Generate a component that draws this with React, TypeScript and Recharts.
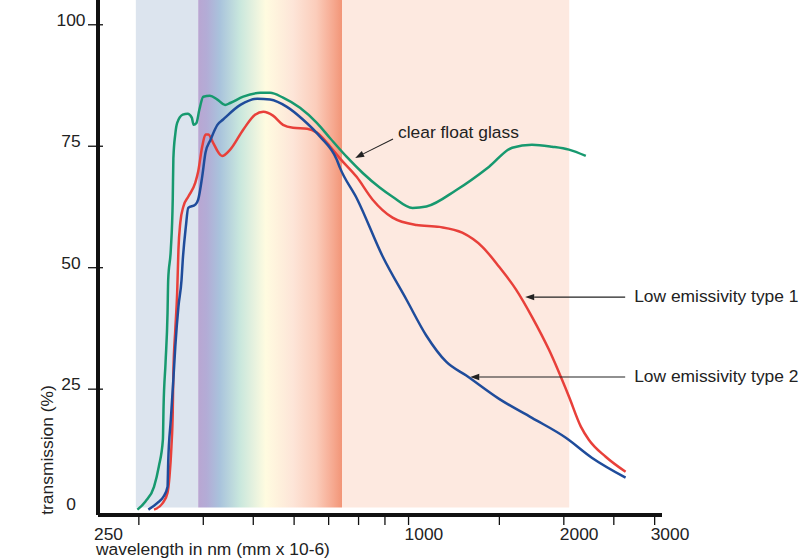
import React from 'react';
import { LineChart, Line, XAxis, YAxis, ReferenceArea, ReferenceLine } from 'recharts';

const FONT = '"Liberation Sans", Arial, Helvetica, sans-serif';
const FS = 17.4;

// clear float glass (green)
const clearW = [298, 309, 321, 328, 334, 335, 338, 341, 342, 346, 349, 350, 353, 356, 365, 373, 380, 383, 388, 393, 400, 412, 426, 441, 451, 478, 516, 539, 571, 616, 664, 704, 759, 815, 879, 931, 1018, 1083, 1238, 1433, 1588, 1735, 1897, 2046, 2206];
const clearT = [0.2, 1.9, 4.9, 9.1, 14.6, 21.4, 30.5, 40.7, 47.5, 53.7, 64, 72.5, 77.5, 79.8, 81.5, 81.7, 80.9, 79.4, 79.8, 82.5, 85.2, 85.4, 84.6, 83.5, 83.9, 85.2, 86, 86, 85, 82.9, 79.8, 76.7, 72.8, 69.5, 66.5, 64.6, 62.3, 62.6, 66, 70.8, 74.7, 75.3, 74.9, 74.3, 73];

// Low emissivity type 1 (red)
const type1W = [321, 334, 341, 344, 347, 349, 350, 353, 356, 358, 361, 366, 374, 386, 391, 398, 404, 409, 418, 428, 435, 451, 478, 504, 523, 546, 571, 597, 636, 664, 704, 736, 793, 852, 931, 1036, 1148, 1271, 1390, 1498, 1616, 1735, 1872, 2046, 2158, 2236, 2411, 2635];
const type1T = [0.2, 1.6, 3.7, 7.0, 13.2, 20.2, 28.4, 37.2, 44.9, 53.7, 59.3, 62.6, 64.6, 67.5, 69.8, 74.9, 77.4, 77.4, 75.7, 73.7, 73, 74.3, 78.4, 81.5, 82.1, 81.3, 79.4, 78.8, 78.6, 77.8, 75, 72.5, 68.7, 64, 60.3, 58.8, 58.4, 57.2, 54.3, 50.2, 45.5, 39.9, 33.1, 23.5, 17.3, 14.6, 11.1, 8.0];

// Low emissivity type 2 (blue)
const type2W = [313, 326, 335, 341, 342, 346, 350, 353, 358, 363, 365, 370, 374, 386, 391, 398, 404, 413, 426, 437, 472, 509, 539, 581, 624, 673, 726, 736, 796, 891, 991, 1083, 1184, 1294, 1498, 1735, 2018, 2266, 2635];
const type2T = [0.2, 1.6, 2.9, 4.9, 9.9, 18.7, 27, 33.7, 42, 47.5, 51.6, 58.4, 62.3, 63, 64, 68.7, 73.7, 76.3, 79.4, 80.5, 83.5, 84.8, 84.6, 83.1, 80.5, 77, 72.2, 70.6, 64, 52.3, 43.4, 36.0, 30.6, 27.8, 23.0, 19.1, 15, 10.9, 6.8];

const xTicks = [250, 300, 400, 500, 600, 700, 800, 900, 1000, 1500, 2000, 2500, 3000];
const xLabeled = [250, 1000, 2000, 3000];
const yTicks = [0, 25, 50, 75, 100];

const bandNames = ['UV', 'Visible', 'Near infrared'];
const bandStart = [296, 391, 743];
const bandEnd = [391, 743, 2049];
const bandFills = ['#dce4ee', 'url(#visGrad)', '#fde9e0'];

const seriesNames = ['clear float glass', 'Low emissivity type 1', 'Low emissivity type 2'];
// annotation arrows: [tail wavelength, tail %], [tip wavelength, tip %]
const arrowTail = [[933, 76.5], [2630, 43.95], [2630, 27.5]];
const arrowTip = [[788, 72.6], [1683, 43.95], [1317, 27.5]];
const arrowTextOffset = [[5, -1], [9, 5], [9, 5]];

const toRows = (w: number[], t: number[]) => w.map((x, i) => ({ w: x, t: t[i] }));
const clearData = toRows(clearW, clearT);
const type1Data = toRows(type1W, type1T);
const type2Data = toRows(type2W, type2T);

const XTick = (props: any) => {
  const { x, y, payload } = props;
  const v = payload.value;
  return (
    <g>
      {v !== 250 && <line x1={x} x2={x} y1={y - 10} y2={y} stroke="#111" strokeWidth={1.3} />}
      {xLabeled.includes(v) && (
        <text x={x - 4} y={y + 15} textAnchor="start" fontFamily={FONT} fontSize={FS} fill="#222">
          {v}
        </text>
      )}
    </g>
  );
};

const YTick = (props: any) => {
  const { x, y, payload } = props;
  const v = payload.value;
  return (
    <g>
      {v !== 0 && <line x1={x - 10} x2={x + 5} y1={y} y2={y} stroke="#111" strokeWidth={1.3} />}
      <text x={x - 27} y={y - (v === 0 ? 7 : 5)} dy="0.355em" textAnchor="middle" fontFamily={FONT} fontSize={FS} fill="#222">
        {v}
      </text>
    </g>
  );
};

const makeArrow = (label: string, off: number[]) => (props: any) => {
  const { x1, y1, x2, y2 } = props;
  const ang = Math.atan2(y2 - y1, x2 - x1);
  const L = 9;
  const W = 3.2;
  const bx = x2 - L * Math.cos(ang);
  const by = y2 - L * Math.sin(ang);
  const px = -Math.sin(ang) * W;
  const py = Math.cos(ang) * W;
  return (
    <g>
      <line x1={x1} y1={y1} x2={bx} y2={by} stroke="#222" strokeWidth={1.1} />
      <polygon points={`${x2},${y2} ${bx + px},${by + py} ${bx - px},${by - py}`} fill="#222" />
      <text x={x1 + off[0]} y={y1 + off[1]} fontFamily={FONT} fontSize={FS} fill="#222">
        {label}
      </text>
    </g>
  );
};

export default function App() {
  return (
    <div style={{ position: 'absolute', left: 0, top: 0, width: 812, height: 558, background: '#fff' }}>
      <LineChart width={812} height={558} margin={{ top: 0, right: 150, bottom: 13, left: 38 }}>
        <defs>
          <linearGradient id="visGrad" x1="0" y1="0" x2="1" y2="0">
            <stop offset="0%" stopColor="#b9a6d2" />
            <stop offset="6%" stopColor="#b3acd6" />
            <stop offset="15%" stopColor="#a9c3dc" />
            <stop offset="29%" stopColor="#c9e7dd" />
            <stop offset="47%" stopColor="#fffbe0" />
            <stop offset="66%" stopColor="#fde5d8" />
            <stop offset="82%" stopColor="#fbcdbb" />
            <stop offset="94%" stopColor="#f6a88f" />
            <stop offset="100%" stopColor="#f29577" />
          </linearGradient>
        </defs>
        <XAxis
          dataKey="w"
          type="number"
          scale="log"
          domain={[250, 3100]}
          allowDataOverflow
          ticks={xTicks}
          interval={0}
          height={30}
          tickSize={10}
          tickMargin={0}
          tickLine={false}
          axisLine={{ stroke: '#111', strokeWidth: 4 }}
          tick={<XTick />}
        />
        <YAxis
          type="number"
          domain={[-0.9, 105.1]}
          allowDataOverflow
          ticks={yTicks}
          interval={0}
          width={60}
          tickSize={0}
          tickMargin={0}
          tickLine={false}
          axisLine={{ stroke: '#111', strokeWidth: 4 }}
          tick={<YTick />}
        />
        {bandNames.map((n, i) => (
          <ReferenceArea
            key={n}
            x1={bandStart[i]}
            x2={bandEnd[i]}
            y1={0.65}
            y2={105.1}
            fill={bandFills[i]}
            fillOpacity={1}
            stroke="none"
            ifOverflow="visible"
          />
        ))}
        <Line data={clearData} dataKey="t" type="monotone" stroke="#17996f" strokeWidth={2.5} dot={false} isAnimationActive={false} />
        <Line data={type1Data} dataKey="t" type="monotone" stroke="#e8403a" strokeWidth={2.5} dot={false} isAnimationActive={false} />
        <Line data={type2Data} dataKey="t" type="monotone" stroke="#1f4c9b" strokeWidth={2.5} dot={false} isAnimationActive={false} />
        {seriesNames.map((n, i) => (
          <ReferenceLine
            key={n}
            segment={[
              { x: arrowTail[i][0], y: arrowTail[i][1] },
              { x: arrowTip[i][0], y: arrowTip[i][1] },
            ]}
            ifOverflow="visible"
            shape={makeArrow(n, arrowTextOffset[i])}
          />
        ))}
        <text x={169} y={17} textAnchor="middle" fontFamily={FONT} fontSize={FS} fill="#222">{bandNames[0]}</text>
        <text x={271} y={17} textAnchor="middle" fontFamily={FONT} fontSize={FS} fill="#222">{bandNames[1]}</text>
        <text x={435} y={17} textAnchor="middle" fontFamily={FONT} fontSize={FS} fill="#222">{bandNames[2]}</text>
        <text x={53} y={450} textAnchor="middle" fontFamily={FONT} fontSize={FS} fill="#222" transform="rotate(-90, 53, 450)">
          transmission (%)
        </text>
        <text x={96} y={555} textAnchor="start" fontFamily={FONT} fontSize={FS} fill="#222">
          wavelength in nm (mm x 10-6)
        </text>
      </LineChart>
    </div>
  );
}
